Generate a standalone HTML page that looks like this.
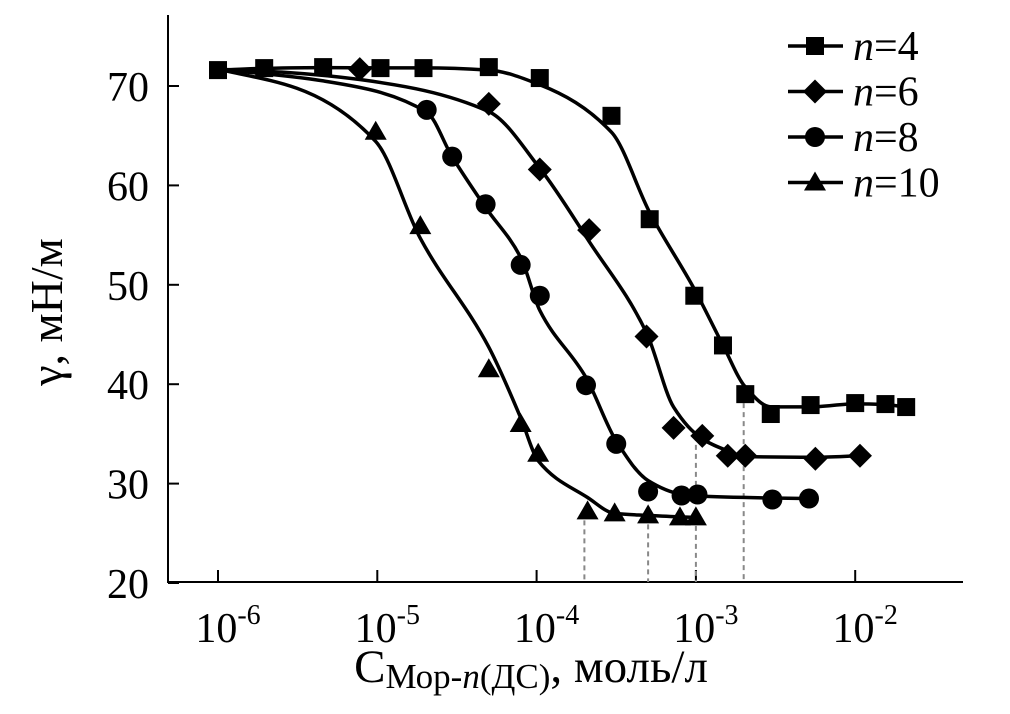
<!DOCTYPE html>
<html><head><meta charset="utf-8"><style>
html,body{margin:0;padding:0;background:#fff;}
svg{display:block;font-family:"Liberation Serif",serif;}
</style></head><body>
<svg id="chart" width="1010" height="714" viewBox="0 0 1010 714">
<g id="axes"></g>
<g id="guides"></g>
<g id="series"></g>
<g id="legend"></g>
<text x="62" y="312" font-size="46" text-anchor="middle" transform="rotate(-90 62 312)">γ, мН/м</text>
<text x="531" y="682" font-size="47" text-anchor="middle">С<tspan font-size="35" dy="6">Мор-<tspan font-style="italic">n</tspan>(ДС)</tspan><tspan dy="-6">, моль/л</tspan></text>
</svg>
<script>
// log10 concentration and surface tension (mN/m)
const xDecades = [-6, -5, -4, -3, -2];
const yTicks = [20, 30, 40, 50, 60, 70];
const n4X = [-6.0,-5.71,-5.34,-4.98,-4.71,-4.30,-3.98,-3.53,-3.29,-3.01,-2.83,-2.69,-2.53,-2.28,-2.0,-1.81,-1.68];
const n4Y = [71.6,71.8,71.9,71.8,71.8,71.9,70.8,67.0,56.6,48.9,43.9,39.0,37.0,37.9,38.1,38.0,37.7];
const n6X = [-5.11,-4.30,-3.98,-3.67,-3.31,-3.14,-2.96,-2.80,-2.69,-2.25,-1.97];
const n6Y = [71.7,68.2,61.6,55.5,44.8,35.6,34.8,32.8,32.8,32.5,32.8];
const n8X = [-4.69,-4.53,-4.32,-4.10,-3.98,-3.69,-3.50,-3.30,-3.09,-2.99,-2.52,-2.29];
const n8Y = [67.6,62.9,58.1,52.0,48.9,39.9,34.0,29.2,28.8,28.9,28.4,28.5];
const n10X = [-5.01,-4.73,-4.30,-4.10,-3.99,-3.68,-3.51,-3.30,-3.10,-3.0];
const n10Y = [65.4,55.9,41.5,36.0,33.0,27.2,27.0,26.8,26.6,26.6];
const guideX = [-3.7,-3.3,-3.0,-2.7];
const guideY = [27.2,26.8,34.8,39.0];

const NS='http://www.w3.org/2000/svg';
const X=v=>218+(v+6)*159.3;
const Y=v=>583-(v-20)*9.94;
function mk(tag,attrs,parent){const e=document.createElementNS(NS,tag);for(const k in attrs)e.setAttribute(k,attrs[k]);parent.appendChild(e);return e;}
const axes=document.getElementById('axes');
let a=mk('path',{d:'M168 15 V582 H963',fill:'none',stroke:'#000','stroke-width':2},axes);


yTicks.forEach(t=>{
  const l=mk('line',{x1:168,x2:179,y1:Y(t),y2:Y(t),stroke:'#000','stroke-width':2},axes);
  
  
  const tx=mk('text',{x:149,y:Y(t)+15,'font-size':42,'text-anchor':'end'},axes);
  tx.textContent=t;
  
  
});
xDecades.forEach(d=>{
  const l=mk('line',{x1:X(d),x2:X(d),y1:570,y2:582,stroke:'#000','stroke-width':2},axes);
  
  
  const tx=mk('text',{x:X(d)+10,y:642,'font-size':42,'text-anchor':'middle'},axes);
  tx.innerHTML='10<tspan font-size="28" dy="-18">'+d+'</tspan>';
  
  
});
const guides=document.getElementById('guides');
guideX.forEach((g,i)=>{
  const l=mk('line',{x1:X(g),x2:X(g),y1:Y(guideY[i]),y2:582,stroke:'#888','stroke-width':2,'stroke-dasharray':'5,4'},guides);
  
  
});
// monotone cubic (Fritsch-Carlson) interpolation
function monotone(pts){
  const n=pts.length;
  const dx=[],dy=[],m=[];
  for(let i=0;i<n-1;i++){dx.push(pts[i+1][0]-pts[i][0]);dy.push(pts[i+1][1]-pts[i][1]);m.push(dy[i]/dx[i]);}
  const t=[m[0]];
  for(let i=1;i<n-1;i++){
    if(m[i-1]*m[i]<=0) t.push(0);
    else{const w1=2*dx[i]+dx[i-1],w2=dx[i]+2*dx[i-1];t.push((w1+w2)/(w1/m[i-1]+w2/m[i]));}
  }
  t.push(m[n-2]);
  let d='M'+pts[0][0]+' '+pts[0][1];
  for(let i=0;i<n-1;i++){
    const h=dx[i]/3;
    d+=' C'+(pts[i][0]+h)+' '+(pts[i][1]+t[i]*h)+' '+(pts[i+1][0]-h)+' '+(pts[i+1][1]-t[i+1]*h)+' '+pts[i+1][0]+' '+pts[i+1][1];
  }
  return d;
}
function relax(pts,iters){
  let p=pts.map(q=>q.slice());
  for(let k=0;k<iters;k++){
    const n=p.map(q=>q.slice());
    for(let i=1;i<p.length-1;i++) n[i][1]=0.25*p[i-1][1]+0.5*p[i][1]+0.25*p[i+1][1];
    p=n;
  }
  return p;
}
function marker(type,cx,cy,parent){
  let e;
  if(type==='square') e=mk('rect',{x:cx-9,y:cy-9,width:18,height:18,fill:'#000'},parent);
  else if(type==='diamond') e=mk('polygon',{points:`${cx},${cy-12} ${cx+12},${cy} ${cx},${cy+12} ${cx-12},${cy}`,fill:'#000'},parent);
  else if(type==='circle') e=mk('circle',{cx:cx,cy:cy,r:10,fill:'#000'},parent);
  else e=mk('polygon',{points:`${cx},${cy-11} ${cx+11},${cy+8} ${cx-11},${cy+8}`,fill:'#000'},parent);
  return e;
}
const series=document.getElementById('series');
const defs=[['n4',n4X,n4Y,'square'],['n6',n6X,n6Y,'diamond'],['n8',n8X,n8Y,'circle'],['n10',n10X,n10Y,'triangle']];
defs.forEach(([name,xs,ys,type])=>{
  const g=mk('g',{},series);
  
  
  let pts=xs.map((x,i)=>[X(x),Y(ys[i])]);
  if(xs[0]>-5.9) pts.unshift([X(-6),Y(71.7)],[X((-6+xs[0])/2),Y(71.4-(xs[0]<-4.9?0.4:0))]);
  pts=relax(pts,1);
  const p=mk('path',{d:monotone(pts),fill:'none',stroke:'#000','stroke-width':3.5},g);
  
  
  xs.forEach((x,i)=>{
    const m=marker(type,X(x),Y(ys[i]),g);
    
    
  });
});
const legend=document.getElementById('legend');
const legLabels=['4','6','8','10'];
const legTypes=['square','diamond','circle','triangle'];
legLabels.forEach((lab,i)=>{
  const y=46+i*45.5;
  const g=mk('g',{},legend);
  
  
  mk('line',{x1:788,x2:843,y1:y,y2:y,stroke:'#000','stroke-width':3.5},g);
  marker(legTypes[i],815,y,g);
  const t=mk('text',{x:853,y:y+14,'font-size':42},g);
  t.innerHTML='<tspan font-style="italic">n</tspan>='+lab;
});
</script>
</body></html>
